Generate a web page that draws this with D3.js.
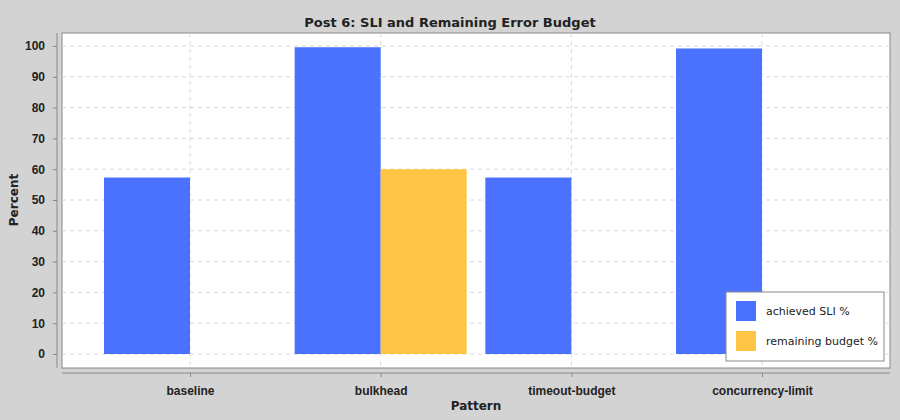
<!DOCTYPE html>
<html><head><meta charset="utf-8">
<script src="https://cdn.jsdelivr.net/npm/d3@7"></script>
<style>body{margin:0;background:#d3d3d3}svg{display:block;font-family:"DejaVu Sans",sans-serif}</style>
</head><body><svg id="c" width="900" height="420"></svg>
<script>
const categories = ["baseline","bulkhead","timeout-budget","concurrency-limit"];
const seriesNames = ["achieved SLI %","remaining budget %"];
const sli = [57.3, 99.6, 57.3, 99.2];
const budget = [0, 60.0, 0, 0];
const yTicks = [0,10,20,30,40,50,60,70,80,90,100];
const colors = ["#4a72ff","#ffc444"];

const svg = d3.select("#c");
const L=62,R=890,T=33,B=368;
const y = d3.scaleLinear().domain([0,100]).range([354,46]);
const x = d3.scalePoint().domain(categories).range([190,762]);
const bw = 86;

svg.append("rect").attr("width",900).attr("height",420).attr("fill","#d3d3d3");
svg.append("rect").attr("x",L).attr("y",T).attr("width",R-L).attr("height",B-T).attr("fill","#fff").attr("stroke","#888");

// grid
svg.append("g").selectAll("line").data(yTicks).join("line")
 .attr("x1",L).attr("x2",R).attr("y1",d=>y(d)).attr("y2",d=>y(d))
 .attr("stroke","#d8d8d8").attr("stroke-dasharray","4,4");
svg.append("g").selectAll("line").data(categories).join("line")
 .attr("x1",d=>x(d)).attr("x2",d=>x(d)).attr("y1",T).attr("y2",B)
 .attr("stroke","#d8d8d8").attr("stroke-dasharray","4,4");

// bars
[sli,budget].forEach((vals,si)=>{
  svg.append("g").selectAll("rect").data(categories).join("rect")
   .attr("x",d=>x(d)-bw+si*bw).attr("width",bw)
   .attr("y",(d,i)=>y(vals[i])).attr("height",(d,i)=>y(0)-y(vals[i]))
   .attr("fill",colors[si]).attr("opacity",vals===budget?1:1);
});

// y axis
const ya = svg.append("g").attr("transform",`translate(57,0)`)
 .call(d3.axisLeft(y).tickValues(yTicks).tickSize(4).tickPadding(8));
ya.select(".domain").attr("d",`M0,${T}V${B}`).attr("stroke","#888");
ya.selectAll(".tick line").attr("stroke","#888");
ya.selectAll("text").attr("font-size",12).attr("font-weight","bold").attr("fill","#222");

// x axis
const xa = svg.append("g").attr("transform",`translate(0,373)`)
 .call(d3.axisBottom(x).tickSize(4).tickPadding(9));
xa.select(".domain").attr("d",`M${L},0H${R}`).attr("stroke","#888");
xa.selectAll(".tick line").attr("stroke","#888");
xa.selectAll("text").attr("font-size",12).attr("font-weight","bold").attr("fill","#222");

svg.append("text").attr("x",450).attr("y",27).attr("text-anchor","middle")
 .attr("font-size",13).attr("font-weight","bold").attr("fill","#222").text("Post 6: SLI and Remaining Error Budget");
svg.append("text").attr("x",476).attr("y",410).attr("text-anchor","middle")
 .attr("font-size",12).attr("font-weight","bold").attr("fill","#222").text("Pattern");
svg.append("text").attr("transform","translate(18,200) rotate(-90)").attr("text-anchor","middle")
 .attr("font-size",12).attr("font-weight","bold").attr("fill","#222").text("Percent");

// legend
const lg = svg.append("g");
lg.append("rect").attr("x",726).attr("y",292).attr("width",158).attr("height",69).attr("fill","#fff").attr("stroke","#888");
seriesNames.forEach((n,i)=>{
  lg.append("rect").attr("x",736).attr("y",301+i*30).attr("width",20).attr("height",20).attr("fill",colors[i]);
  lg.append("text").attr("x",766).attr("y",315+i*30).attr("font-size",11).attr("fill","#222").text(n);
});
</script></body></html>
